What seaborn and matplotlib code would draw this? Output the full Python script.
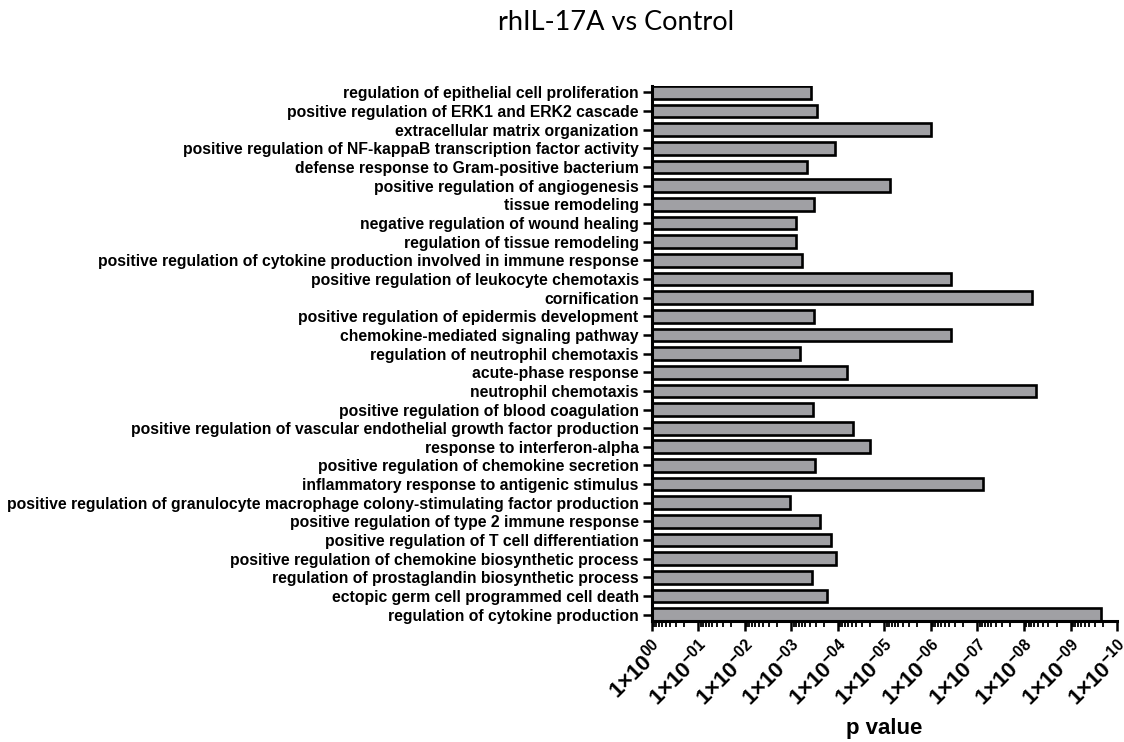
import matplotlib
matplotlib.use("Agg")
import matplotlib.pyplot as plt
import matplotlib.ticker as mticker
import numpy as np
import pandas as pd
import seaborn as sns

# GO terms, top to bottom
terms = [
    "regulation of epithelial cell proliferation",
    "positive regulation of ERK1 and ERK2 cascade",
    "extracellular matrix organization",
    "positive regulation of NF-kappaB transcription factor activity",
    "defense response to Gram-positive bacterium",
    "positive regulation of angiogenesis",
    "tissue remodeling",
    "negative regulation of wound healing",
    "regulation of tissue remodeling",
    "positive regulation of cytokine production involved in immune response",
    "positive regulation of leukocyte chemotaxis",
    "cornification",
    "positive regulation of epidermis development",
    "chemokine-mediated signaling pathway",
    "regulation of neutrophil chemotaxis",
    "acute-phase response",
    "neutrophil chemotaxis",
    "positive regulation of blood coagulation",
    "positive regulation of vascular endothelial growth factor production",
    "response to interferon-alpha",
    "positive regulation of chemokine secretion",
    "inflammatory response to antigenic stimulus",
    "positive regulation of granulocyte macrophage colony-stimulating factor production",
    "positive regulation of type 2 immune response",
    "positive regulation of T cell differentiation",
    "positive regulation of chemokine biosynthetic process",
    "regulation of prostaglandin biosynthetic process",
    "ectopic germ cell programmed cell death",
    "regulation of cytokine production",
]

# enrichment p values
p_values = [
    3.85e-4, 2.86e-4, 1.01e-6, 1.15e-4, 4.6e-4, 7.5e-6, 3.2e-4, 7.9e-4,
    7.9e-4, 6.0e-4, 3.75e-7, 6.8e-9, 3.3e-4, 3.75e-7, 6.4e-4, 6.5e-5,
    5.6e-9, 3.4e-4, 4.7e-5, 2.0e-5, 3.05e-4, 7.8e-8, 1.07e-3, 2.46e-4,
    1.38e-4, 1.08e-4, 3.6e-4, 1.74e-4, 2.23e-10,
]

# decades shown on the p value axis (1x10^0 ... 1x10^-10)
tick_exponents = list(range(0, -11, -1))

title = "rhIL-17A vs Control"
x_title = "p value"

# the axis runs in decades: bar length = -log10(p), drawn from p = 1
df = pd.DataFrame({"term": terms, "p": p_values})
df["decades"] = -np.log10(df["p"])

sns.set_style("ticks")
plt.rcParams["font.family"] = ["Liberation Sans", "DejaVu Sans"]
plt.rcParams["mathtext.fontset"] = "custom"
plt.rcParams["mathtext.bf"] = "Liberation Sans:bold"
plt.rcParams["mathtext.rm"] = "Liberation Sans"
for key in ("text.color", "axes.labelcolor", "xtick.color", "ytick.color",
            "axes.edgecolor"):
    plt.rcParams[key] = "black"

fig = plt.figure(figsize=(11.24, 7.42), dpi=100)
ax = fig.add_axes([0.580, 0.163, 0.4138, 0.721])

bar_h = 0.68
sns.barplot(data=df, x="decades", y="term", orient="h", ax=ax,
            color="#a0a0a4", saturation=1, width=bar_h,
            edgecolor="black", linewidth=1.9)

ax.set_xlim(0, -min(tick_exponents))
ax.set_ylim(len(terms) - 1 + bar_h / 2, -bar_h / 2)

# major ticks at whole decades, minor ticks at 2..9 x 10^n
major_pos = [-e for e in tick_exponents]
minor_pos = [n - np.log10(k) for n in major_pos[1:] for k in range(2, 10)]
ax.xaxis.set_major_locator(mticker.FixedLocator(major_pos))
ax.xaxis.set_minor_locator(mticker.FixedLocator(minor_pos))
labels = []
for e in tick_exponents:
    sup = "00" if e == 0 else "{-}%02d" % (-e)
    labels.append(r"$\mathbf{1{\times}10^{%s}}$" % sup)
ax.set_xticklabels(labels, rotation=45, ha="right", va="top",
                   rotation_mode="anchor", fontsize=16)

for lab in ax.get_yticklabels():
    lab.set_fontweight("bold")
    lab.set_fontsize(11.3)
ax.set_ylabel("")
ax.set_xlabel(x_title, fontsize=16, fontweight="bold")
ax.xaxis.set_label_coords(0.5, -0.20)
ax.xaxis.label.set_va("center")

sns.despine(ax=ax)
for s in ("left", "bottom"):
    ax.spines[s].set_linewidth(2.2)
ax.tick_params(axis="y", length=6.5, width=1.8, pad=3)
ax.tick_params(axis="x", which="major", length=7, width=1.8, pad=4)
ax.tick_params(axis="x", which="minor", length=4.5, width=1.3)

fig.text(0.548, 0.970, title, ha="center", va="center", fontsize=19.5,
         family=["Lato", "DejaVu Sans"])

fig.savefig("out.png", dpi=100, facecolor="white")
